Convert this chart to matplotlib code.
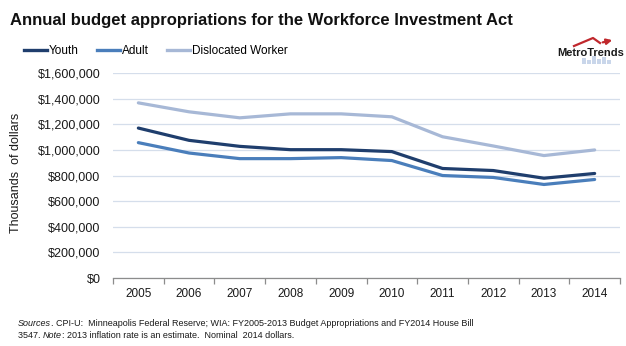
import matplotlib
matplotlib.use("Agg")
import matplotlib.pyplot as plt
from matplotlib.ticker import FuncFormatter, FixedLocator
from matplotlib.lines import Line2D
from matplotlib.patches import Rectangle, FancyArrowPatch

plt.rcParams['font.family'] = ['Liberation Sans', 'DejaVu Sans']

years = [2005, 2006, 2007, 2008, 2009, 2010, 2011, 2012, 2013, 2014]
youth = [1172000, 1076000, 1029000, 1003000, 1003000, 988000, 856000, 840000, 780000, 817000]
adult = [1058000, 977000, 933000, 933000, 941000, 918000, 801000, 786000, 731000, 770000]
dislocated = [1369000, 1299000, 1252000, 1283000, 1283000, 1260000, 1104000, 1032000, 957000, 1001000]

series_names = ["Youth", "Adult", "Dislocated Worker"]
series_colors = ["#1F3E6D", "#4A7EBB", "#A7B8D6"]
y_ticks = [0, 200000, 400000, 600000, 800000, 1000000, 1200000, 1400000, 1600000]

W, H = 626, 346
fig = plt.figure(figsize=(W / 100, H / 100), dpi=100)
ax = fig.add_axes([113 / W, 1 - 278 / H, (620 - 113) / W, (278 - 73.3) / H])

x = list(range(len(years)))
for vals, name, col in zip([youth, adult, dislocated], series_names, series_colors):
    ax.plot(x, vals, color=col, lw=2.3, solid_capstyle='round', solid_joinstyle='round',
            label=name, zorder=3)

ax.set_xlim(-0.5, len(years) - 0.5)
ax.set_ylim(0, 1600000)
ax.set_yticks(y_ticks)
ax.yaxis.set_major_formatter(FuncFormatter(lambda v, p: "${:,.0f}".format(v)))
ax.grid(axis='y', color='#D5DEEB', lw=0.9, zorder=0)
ax.set_axisbelow(True)
ax.tick_params(axis='y', length=0, labelsize=9, pad=9, labelcolor='#1a1a1a')

ax.set_xticks(x)
ax.set_xticklabels([str(y) for y in years])
ax.tick_params(axis='x', which='major', length=0, labelsize=8.5, pad=7, labelcolor='#1a1a1a')
ax.xaxis.set_minor_locator(FixedLocator([i - 0.5 for i in range(len(years) + 1)]))
ax.tick_params(axis='x', which='minor', length=4, color='#8C8C8C', width=0.9, direction='out')

for s in ['top', 'right', 'left']:
    ax.spines[s].set_visible(False)
ax.spines['bottom'].set_color('#8C8C8C')
ax.spines['bottom'].set_linewidth(0.9)

ax.set_ylabel("Thousands  of dollars", fontsize=9, color='#1a1a1a')
ax.yaxis.set_label_coords(22 / W, 0.5, transform=fig.transFigure)

fig.text(10 / W, 1 - 20 / H, "Annual budget appropriations for the Workforce Investment Act",
         fontsize=12.0, fontweight='bold', ha='left', va='center', color='#111111')

handles = [Line2D([0], [0], color=c, lw=2.4) for c in series_colors]
fig.legend(handles, series_names, loc='center left', bbox_to_anchor=(24 / W, 1 - 51 / H),
           ncol=3, frameon=False, fontsize=8.5, handlelength=1.95, handletextpad=0.15,
           columnspacing=1.55, borderaxespad=0, borderpad=0)

# MetroTrends logo
bars_x = [582, 587, 592, 597, 602, 607]
bars_h = [6, 4, 8, 5, 7, 4]
for bx, bh in zip(bars_x, bars_h):
    fig.add_artist(Rectangle((bx / W, 1 - 64 / H), 3.5 / W, bh / H, transform=fig.transFigure,
                             color='#C9D6EA', lw=0))
fig.text(591 / W, 1 - 52.5 / H, "MetroTrends", fontsize=8, fontweight='bold',
         ha='center', va='center', color='#1a1a1a')
arrow_x = [574, 593, 600, 615]
arrow_y = [46, 38, 43, 39.5]
fig.add_artist(Line2D([v / W for v in arrow_x[:-1]], [1 - v / H for v in arrow_y[:-1]],
                      transform=fig.transFigure, color='#C0282D', lw=1.6))
fig.add_artist(FancyArrowPatch((arrow_x[-2] / W, 1 - arrow_y[-2] / H),
                               (arrow_x[-1] / W, 1 - arrow_y[-1] / H),
                               transform=fig.transFigure, color='#C0282D', lw=1.6,
                               arrowstyle='-|>', mutation_scale=8))

# source note, with italic lead words
fs = 6.5
fig.canvas.draw()
renderer = fig.canvas.get_renderer()


def run(pieces, x0, y0):
    xpix = x0
    for txt, st in pieces:
        t = fig.text(xpix / W, 1 - y0 / H, txt, fontsize=fs, style=st,
                     color='#1a1a1a', va='center', ha='left')
        bb = t.get_window_extent(renderer=renderer)
        xpix = bb.x1


run([("Sources", 'italic'),
     (". CPI-U:  Minneapolis Federal Reserve; WIA: FY2005-2013 Budget Appropriations and FY2014 House Bill", 'normal')],
    18, 323)
run([("3547. ", 'normal'), ("Note", 'italic'),
     (": 2013 inflation rate is an estimate.  Nominal  2014 dollars.", 'normal')],
    18, 336)

fig.savefig("out.png", dpi=100)
